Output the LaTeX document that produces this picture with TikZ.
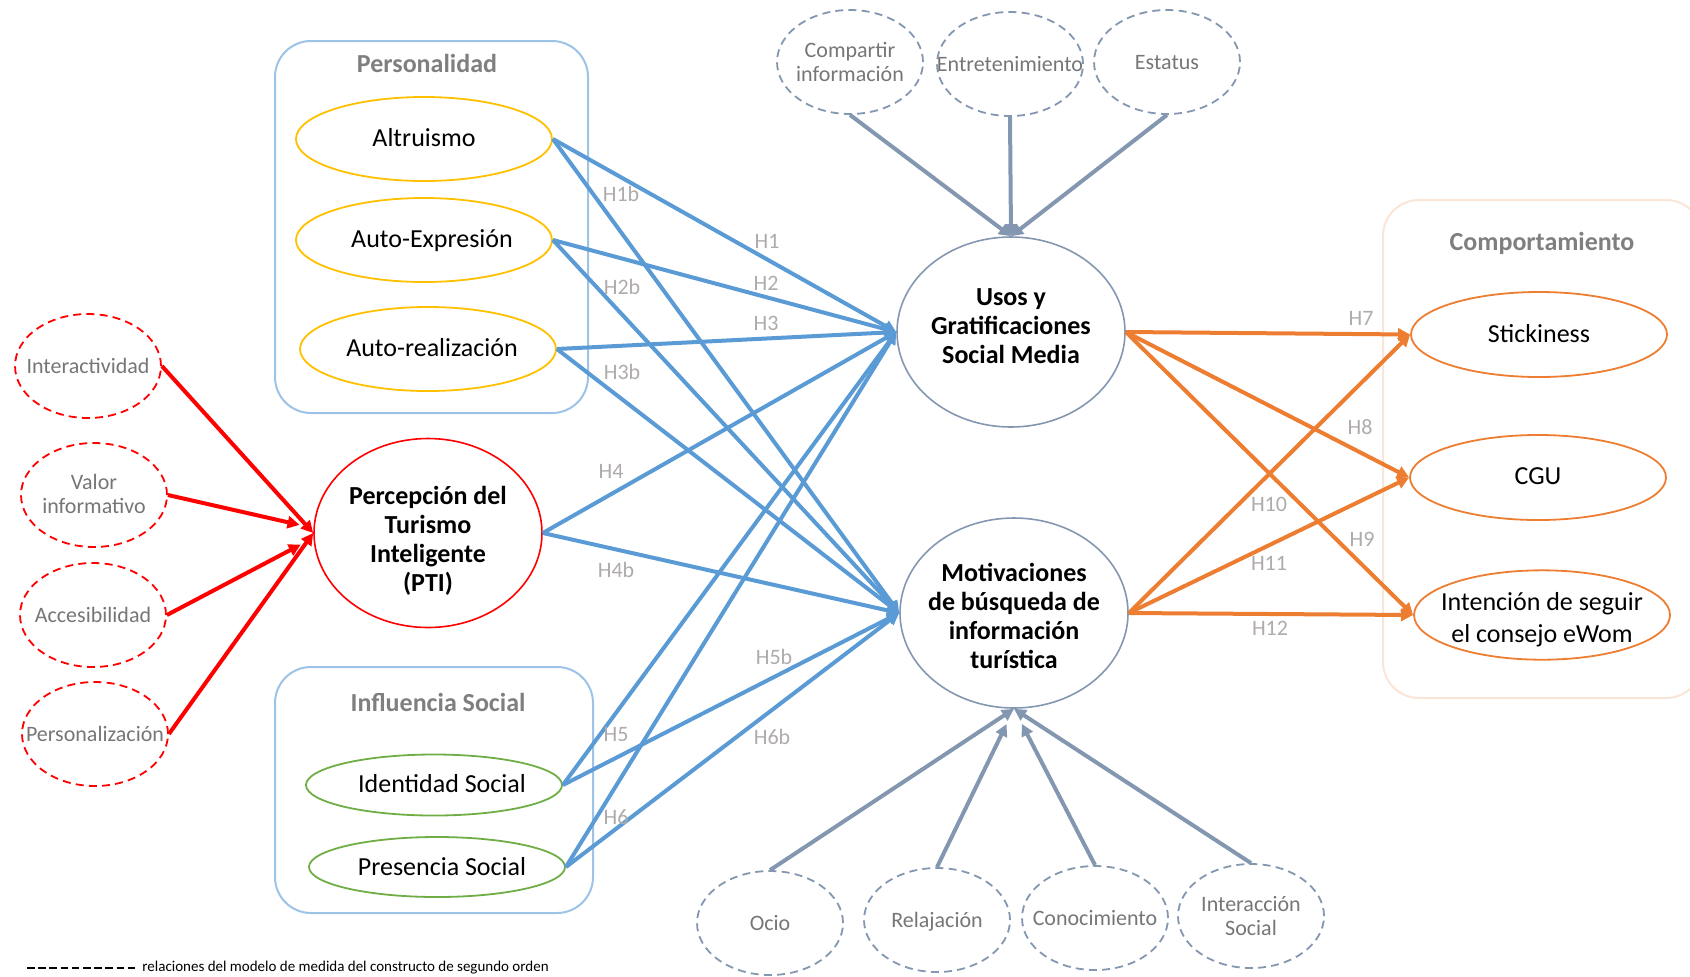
\documentclass[tikz,border=0pt]{standalone}
\usepackage{fontspec}
\setmainfont{Carlito}
\usetikzlibrary{shapes.geometric,arrows.meta}
\definecolor{boxblue}{RGB}{157,195,230}
\definecolor{peach}{RGB}{251,229,214}
\definecolor{gold}{RGB}{255,192,0}
\definecolor{leaf}{RGB}{112,173,71}
\definecolor{tang}{RGB}{237,125,49}
\definecolor{skyarrow}{RGB}{91,155,213}
\definecolor{slate}{RGB}{132,151,176}
\definecolor{pure red}{RGB}{255,0,0}
\definecolor{titlegrey}{RGB}{127,127,127}
\definecolor{labgrey}{RGB}{175,171,171}
\definecolor{txtgrey}{RGB}{118,118,118}
% zero-width text block (optionally lowered), so an ellipse keeps exactly its minimum size
\newcommand\ztext[2][1.5pt]{\makebox[0pt]{\raisebox{-#1}[\height][\depth]{\begin{tabular}{@{}c@{}}#2\end{tabular}}}}
\begin{document}
\begin{tikzpicture}[x=0.5pt,y=-0.5pt,
  grp/.style={draw=boxblue,line width=1pt,rounded corners=18pt},
  lv/.style={ellipse,draw,inner sep=0pt,line width=0.9pt,
    minimum width=128pt,font=\fontsize{13}{15}\selectfont},
  big/.style={ellipse,draw,inner sep=0pt,line width=0.8pt,
    minimum width=114pt,minimum height=95pt,font=\bfseries\fontsize{13}{14.5}\selectfont},
  dl/.style={ellipse,draw,dash pattern=on 4pt off 2.6pt,line width=0.9pt,inner sep=0pt,
    minimum width=73pt,minimum height=52pt,text=txtgrey,
    font=\fontsize{11}{11.9}\selectfont},
  ttl/.style={text=titlegrey,font=\bfseries\fontsize{13}{15}\selectfont},
  hl/.style={text=labgrey,font=\fontsize{11}{12}\selectfont},
  arr/.style={line width=2pt,-{Triangle[length=6pt,width=6pt]}},
]
\useasboundingbox (0,0) rectangle (1690,976);

% group frames
\draw[grp] (275,41) rectangle (588,413);
\draw[grp] (275,667) rectangle (593,913);
\draw[grp,draw=peach] (1383,200) rectangle (1702,698);
\node[ttl] (tpers) at (427,63) {Personalidad};
\node[ttl] (tinfl) at (438,702) {Influencia Social};
\node[ttl] (tcomp) at (1542,243) {Comportamiento};

% personality traits
\node[lv,draw=gold,minimum height=42pt] (altr) at (424,139) {\ztext[0.5pt]{Altruismo}};
\node[lv,draw=gold,minimum height=42pt] (autoe) at (424,240) {\ztext[0.5pt]{\hspace{8pt}Auto-Expresión}};
\node[lv,draw=gold,minimum height=42pt] (autor) at (428,349) {\ztext[0.5pt]{\hspace{4pt}Auto-realización}};

% social influence
\node[lv,draw=leaf,minimum height=30.5pt] (ident) at (434,785) {\ztext[0.6pt]{\hspace{8pt}Identidad Social}};
\node[lv,draw=leaf,minimum height=30pt] (pres) at (437,867) {\ztext[1pt]{\hspace{5pt}Presencia Social}};

% smart tourism perception and its dimensions
\node[big,draw=pure red,minimum height=94.5pt,font=\bfseries\fontsize{13}{14.4}\selectfont] (pti) at (428,533)
  {\ztext[1.4pt]{\rule{0pt}{16.5pt}Percepción del\\Turismo\\Inteligente\\(PTI)}};
\node[dl,draw=pure red] (inter) at (88,366) {\ztext{Interactividad}};
\node[dl,draw=pure red] (valor) at (94,495) {\ztext[0.8pt]{Valor\\informativo}};
\node[dl,draw=pure red] (acces) at (93,615) {\ztext{Accesibilidad}};
\node[dl,draw=pure red] (perso) at (95,734) {\ztext{Personalización}};

% central constructs
\node[big,draw=slate,font=\bfseries\fontsize{13}{14.6}\selectfont] (usos) at (1011,332)
  {\ztext[1.6pt]{Usos y\\Gratificaciones\\Social Media\\[6.5pt]}};
\node[big,draw=slate] (motiv) at (1014,613) {\ztext[3pt]{Motivaciones\\de búsqueda de\\información\\turística}};

% their dimensions
\node[dl,draw=slate] (comp) at (850,62) {\ztext{Compartir\\información}};
\node[dl,draw=slate] (entre) at (1010,64) {\ztext{Entretenimiento}};
\node[dl,draw=slate] (estat) at (1167,62) {\ztext{Estatus}};
\node[dl,draw=slate] (ocio) at (770,923) {\ztext{Ocio}};
\node[dl,draw=slate] (relaj) at (937,920) {\ztext{Relajación}};
\node[dl,draw=slate] (conoc) at (1095,918) {\ztext{Conocimiento}};
\node[dl,draw=slate] (inters) at (1251,916) {\ztext{Interacción\\Social}};

% behaviour
\node[lv,draw=tang,minimum height=42.5pt] (stick) at (1539,334.5) {\ztext[1.1pt]{Stickiness}};
\node[lv,draw=tang,minimum height=42.5pt] (cgu) at (1538,477.5) {\ztext[0.6pt]{CGU}};
\node[lv,draw=tang,minimum height=42pt,font=\fontsize{13}{15.8}\selectfont] (inten) at (1542,615)
  {\ztext[2.5pt]{Intención de seguir\\el consejo eWom}};

% second-order measurement relations
\draw[arr,pure red] (inter.east) -- (pti.west);
\draw[arr,pure red,shorten >=7pt] (valor.east) -- ([yshift=2.5pt]pti.west);
\draw[arr,pure red,shorten >=7pt] (acces.east) -- ([yshift=-2.5pt]pti.west);
\draw[arr,pure red] (perso.east) -- (pti.west);

\draw[arr,slate] (comp.south) -- (usos.north);
\draw[arr,slate] (entre.south) -- (usos.north);
\draw[arr,slate] (estat.south) -- (usos.north);
\draw[arr,slate] (ocio.north) -- (motiv.south);
\draw[arr,slate,shorten >=8.5pt] (relaj.north) -- (motiv.south);
\draw[arr,slate,shorten >=8.5pt] (conoc.north) -- (motiv.south);
\draw[arr,slate] (inters.north) -- (motiv.south);

% structural paths
\foreach \s in {altr,autoe,autor,pti,ident,pres}{
  \draw[arr,skyarrow] (\s.east) -- (usos.west);
  \draw[arr,skyarrow] (\s.east) -- (motiv.west);
}
\foreach \t in {stick,cgu,inten}{
  \draw[arr,tang] (usos.east) -- (\t.west);
  \draw[arr,tang] (motiv.east) -- (\t.west);
}

% hypothesis labels
\node[hl] (h1b) at (621,194) {H1b};
\node[hl] (h1) at (767,241) {H1};
\node[hl] (h2b) at (622,287) {H2b};
\node[hl] (h2) at (766,283) {H2};
\node[hl] (h3) at (766,323) {H3};
\node[hl] (h3b) at (622,372) {H3b};
\node[hl] (h4) at (611,471) {H4};
\node[hl] (h4b) at (616,570) {H4b};
\node[hl] (h5b) at (774,657) {H5b};
\node[hl] (h5) at (616,734) {H5};
\node[hl] (h6b) at (772,737) {H6b};
\node[hl] (h6) at (616,817) {H6};
\node[hl] (h7) at (1361,318) {H7};
\node[hl] (h8) at (1360,427) {H8};
\node[hl] (h10) at (1269,504) {H10};
\node[hl] (h9) at (1362,539) {H9};
\node[hl] (h11) at (1269,563) {H11};
\node[hl] (h12) at (1270,628) {H12};

% legend
\coordinate (lg1) at (27,968);
\coordinate (lg2) at (135,968);
\draw[dash pattern=on 3.8pt off 1.8pt,line width=1pt] (lg1) -- (lg2);
\node[anchor=west,inner sep=0pt,font=\fontsize{7.5}{8}\selectfont] (lgt) at (142,968)
  {relaciones del modelo de medida del constructo de segundo orden};
\end{tikzpicture}
\end{document}
